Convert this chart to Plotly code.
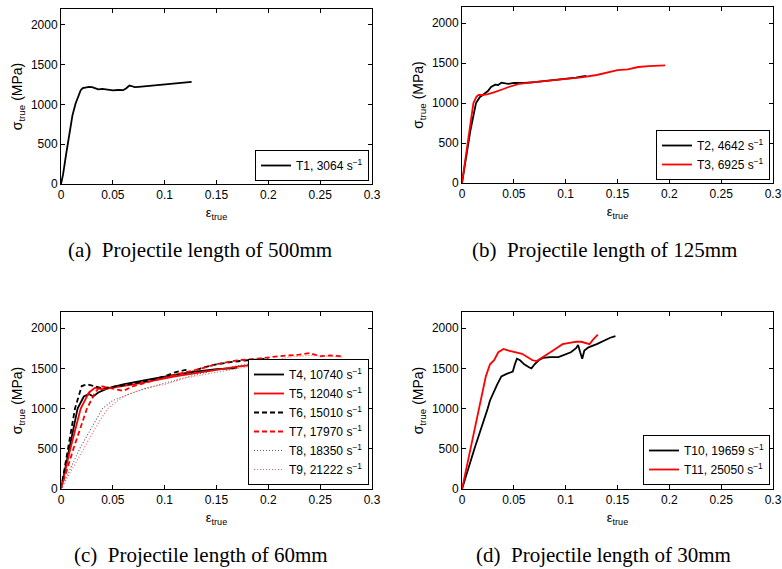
import plotly.graph_objects as go
from plotly.subplots import make_subplots

# (a) projectile 500mm
t1_eps = [0, 0.002, 0.005, 0.008, 0.011, 0.014, 0.017, 0.019, 0.021, 0.024, 0.027, 0.030, 0.033, 0.036,
          0.040, 0.045, 0.050, 0.055, 0.060, 0.063, 0.066, 0.068, 0.071, 0.075, 0.080, 0.090, 0.100,
          0.110, 0.120, 0.126]
t1_sig = [0, 120, 380, 640, 860, 1010, 1130, 1180, 1205, 1218, 1222, 1218, 1200, 1190,
          1195, 1185, 1178, 1182, 1180, 1205, 1238, 1232, 1218, 1222, 1228, 1240, 1252,
          1262, 1275, 1285]

# (b) projectile 125mm
t2_eps = [0, 0.004, 0.008, 0.0135, 0.017, 0.020, 0.025, 0.028, 0.030, 0.032, 0.035, 0.038, 0.042,
          0.045, 0.050, 0.060, 0.070, 0.080, 0.090, 0.100, 0.110, 0.115, 0.120]
t2_sig = [0, 320, 650, 1000, 1070, 1100, 1150, 1200, 1215, 1230, 1225, 1255, 1245,
          1240, 1252, 1250, 1262, 1275, 1285, 1300, 1318, 1330, 1340]
t3_eps = [0, 0.004, 0.008, 0.011, 0.014, 0.016, 0.020, 0.025, 0.030, 0.035, 0.040, 0.045, 0.055,
          0.070, 0.085, 0.100, 0.115, 0.130, 0.140, 0.150, 0.160, 0.170, 0.180, 0.190, 0.196]
t3_sig = [0, 380, 740, 1000, 1080, 1100, 1100, 1110, 1130, 1150, 1175, 1200, 1240,
          1260, 1280, 1300, 1320, 1350, 1380, 1410, 1420, 1450, 1460, 1465, 1470]

# (c) projectile 60mm
t4_eps = [0, 0.008, 0.016, 0.022, 0.027, 0.031, 0.036, 0.045, 0.060, 0.080, 0.100, 0.115, 0.130,
          0.150, 0.165, 0.170]
t4_sig = [0, 500, 1000, 1150, 1180, 1150, 1200, 1250, 1300, 1350, 1400, 1430, 1460,
          1490, 1500, 1510]
t5_eps = [0, 0.009, 0.019, 0.027, 0.033, 0.040, 0.050, 0.060, 0.070, 0.090, 0.110, 0.130, 0.150,
          0.170, 0.190, 0.210]
t5_sig = [0, 500, 1000, 1200, 1260, 1240, 1260, 1280, 1300, 1350, 1400, 1440, 1480,
          1520, 1550, 1560]
t6_eps = [0, 0.007, 0.0135, 0.020, 0.025, 0.032, 0.040, 0.050, 0.065, 0.085, 0.100, 0.110, 0.120,
          0.125, 0.135, 0.150, 0.165, 0.180, 0.200]
t6_sig = [0, 500, 1000, 1280, 1300, 1280, 1250, 1270, 1300, 1350, 1400, 1450, 1480,
          1450, 1500, 1550, 1580, 1600, 1620]
t7_eps = [0, 0.012, 0.025, 0.033, 0.038, 0.050, 0.060, 0.070, 0.090, 0.110, 0.130, 0.150, 0.170,
          0.190, 0.210, 0.230, 0.240, 0.250, 0.260, 0.270]
t7_sig = [0, 500, 1000, 1200, 1280, 1250, 1220, 1280, 1350, 1420, 1480, 1550, 1600,
          1620, 1650, 1670, 1690, 1650, 1660, 1650]
t8_eps = [0, 0.018, 0.040, 0.050, 0.070, 0.090, 0.110, 0.130, 0.150, 0.170, 0.190, 0.200]
t8_sig = [0, 500, 1000, 1100, 1200, 1280, 1350, 1420, 1480, 1530, 1570, 1580]
t9_eps = [0, 0.022, 0.035, 0.045, 0.060, 0.080, 0.100, 0.120, 0.150, 0.180, 0.200, 0.220, 0.240,
          0.260, 0.272]
t9_sig = [0, 500, 800, 1000, 1150, 1250, 1300, 1380, 1450, 1520, 1580, 1640, 1660,
          1650, 1640]

# (d) projectile 30mm
t10_eps = [0, 0.012, 0.0248, 0.027, 0.034, 0.038, 0.043, 0.046, 0.049, 0.051, 0.053, 0.056, 0.060,
           0.065, 0.067, 0.070, 0.074, 0.078, 0.085, 0.093, 0.100, 0.105, 0.110, 0.112, 0.114,
           0.116, 0.118, 0.122, 0.130, 0.138, 0.143, 0.148]
t10_sig = [0, 500, 1000, 1100, 1300, 1400, 1430, 1450, 1460, 1550, 1620, 1600, 1550,
           1510, 1500, 1550, 1600, 1630, 1640, 1640, 1670, 1700, 1750, 1790, 1700,
           1620, 1720, 1760, 1800, 1850, 1880, 1900]
t11_eps = [0, 0.008, 0.016, 0.023, 0.027, 0.031, 0.035, 0.040, 0.045, 0.052, 0.058, 0.063, 0.068,
           0.072, 0.076, 0.083, 0.090, 0.097, 0.105, 0.110, 0.115, 0.120, 0.123, 0.126, 0.129, 0.131]
t11_sig = [0, 500, 1000, 1400, 1550, 1600, 1700, 1740, 1720, 1700, 1680, 1640, 1600,
           1590, 1620, 1680, 1740, 1800, 1820, 1830, 1830, 1810, 1800, 1850, 1890, 1920]

x_ticks = [0, 0.05, 0.1, 0.15, 0.2, 0.25, 0.3]
x_ticklabels = ["0", "0.05", "0.1", "0.15", "0.2", "0.25", "0.3"]
y_ticks = [0, 500, 1000, 1500, 2000]

captions = ["(a)  Projectile length of 500mm", "(b)  Projectile length of 125mm",
            "(c)  Projectile length of 60mm", "(d)  Projectile length of 30mm"]

SANS = "Liberation Sans, Arial, sans-serif"
SERIF = "Liberation Serif, Times New Roman, serif"

fig = make_subplots(rows=2, cols=2)

series = [
    # (eps, sig, name, color, dash, width, row, col, legend)
    (t1_eps, t1_sig, "T1, 3064 s<sup>−1</sup>", "black", "solid", 1.8, 1, 1, "legend"),
    (t2_eps, t2_sig, "T2, 4642 s<sup>−1</sup>", "black", "solid", 1.8, 1, 2, "legend2"),
    (t3_eps, t3_sig, "T3, 6925 s<sup>−1</sup>", "red", "solid", 1.8, 1, 2, "legend2"),
    (t4_eps, t4_sig, "T4, 10740 s<sup>−1</sup>", "black", "solid", 1.8, 2, 1, "legend3"),
    (t5_eps, t5_sig, "T5, 12040 s<sup>−1</sup>", "red", "solid", 1.8, 2, 1, "legend3"),
    (t6_eps, t6_sig, "T6, 15010 s<sup>−1</sup>", "black", "5px,3px", 1.8, 2, 1, "legend3"),
    (t7_eps, t7_sig, "T7, 17970 s<sup>−1</sup>", "red", "5px,3px", 1.8, 2, 1, "legend3"),
    (t8_eps, t8_sig, "T8, 18350 s<sup>−1</sup>", "rgb(90,90,90)", "1px,2px", 1.1, 2, 1, "legend3"),
    (t9_eps, t9_sig, "T9, 21222 s<sup>−1</sup>", "rgb(255,90,90)", "1px,2px", 1.1, 2, 1, "legend3"),
    (t10_eps, t10_sig, "T10, 19659 s<sup>−1</sup>", "black", "solid", 1.8, 2, 2, "legend4"),
    (t11_eps, t11_sig, "T11, 25050 s<sup>−1</sup>", "red", "solid", 1.8, 2, 2, "legend4"),
]
for eps, sig, name, color, dash, width, r, c, leg in series:
    fig.add_trace(go.Scatter(x=eps, y=sig, mode="lines", name=name, legend=leg,
                             line=dict(color=color, dash=dash, width=width)), row=r, col=c)

W, H = 782, 569
# axes boxes in pixels: left, right, top, bottom
boxes = [(61, 372, 9, 184), (462, 773, 7, 183), (61, 372, 312, 489), (462, 773, 312, 489)]
for i, (l, rr, t, b) in enumerate(boxes):
    sfx = "" if i == 0 else str(i + 1)
    fig.layout["xaxis" + sfx].domain = [l / W, rr / W]
    fig.layout["yaxis" + sfx].domain = [1 - b / H, 1 - t / H]

fig.update_xaxes(range=[0, 0.3], tickvals=x_ticks, ticktext=x_ticklabels, automargin=False,
                 showgrid=False, zeroline=False, showline=True, linecolor="black", linewidth=1,
                 mirror="ticks", ticks="inside", ticklen=4, tickcolor="black",
                 tickfont=dict(family=SANS, size=12, color="black"),
                 title=dict(text="ε<sub>true</sub>", font=dict(family=SANS, size=13, color="black"),
                            standoff=6))
fig.update_yaxes(range=[0, 2200], tickvals=y_ticks, automargin=False,
                 showgrid=False, zeroline=False, showline=True, linecolor="black", linewidth=1,
                 mirror="ticks", ticks="inside", ticklen=4, tickcolor="black",
                 tickfont=dict(family=SANS, size=12, color="black"),
                 title=dict(text="σ<sub>true</sub> (MPa)", font=dict(family=SANS, size=14, color="black"),
                            standoff=4))

legbase = dict(bgcolor="white", bordercolor="black", borderwidth=1, xanchor="right", yanchor="bottom",
               font=dict(family=SANS, size=12, color="black"), tracegroupgap=0, itemwidth=30)
legpos = [(369, 181), (770, 180), (369, 485), (770, 485)]
for i, (rx, by) in enumerate(legpos):
    key = "legend" if i == 0 else "legend" + str(i + 1)
    fig.layout[key] = dict(legbase, x=rx / W, y=1 - by / H)

capxy = [(200, 250), (604, 250), (201, 555), (603, 555)]
for txt, (cx, cy) in zip(captions, capxy):
    fig.add_annotation(text=txt, xref="paper", yref="paper", x=cx / W, y=1 - cy / H,
                       xanchor="center", yanchor="middle", showarrow=False,
                       font=dict(family=SERIF, size=21, color="black"))

fig.update_layout(width=W, height=H, margin=dict(l=0, r=0, t=0, b=0),
                  plot_bgcolor="white", paper_bgcolor="white", showlegend=True)

fig.write_html("out.html", config={"displayModeBar": False},
               post_script="document.body.style.margin='0';")
